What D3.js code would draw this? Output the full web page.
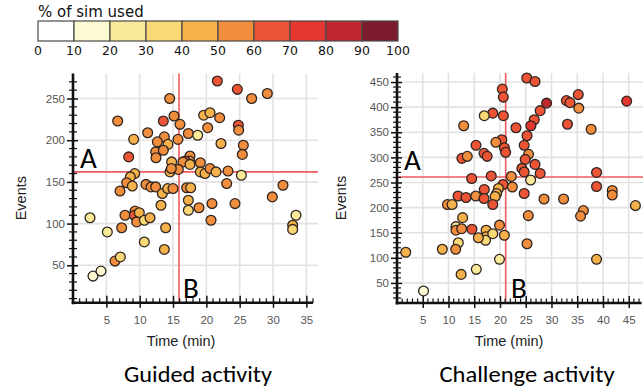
<!DOCTYPE html>
<html><head><meta charset="utf-8">
<script src="https://cdn.jsdelivr.net/npm/d3@7"></script>
<style>
html,body{margin:0;padding:0;background:#fff;}
svg{display:block;}
</style></head>
<body>
<svg id="chart" width="643" height="389"></svg>
<script>
// ---------- data ----------
const legendBreaks = [0,10,20,30,40,50,60,70,80,90,100];
const legendColors = ["#ffffff","#fdf9d3","#fbea9a","#f9d876","#f5b24b","#f08e3d","#ec5436","#e33631","#bf282e","#7c1b2b"];
const legendTitle = "% of sim used";

const guidedTime   = [21.65,24.65,26.8,29.15,14.5,6.7,13.55,15.15,16.05,19.6,20.55,22.0,24.8,24.85,20.2,17.3,18.7,11.2,13.7,12.65,14.25,15.75,9.1,22.2,25.55,25.4,8.35,12.4,13.55,12.45,17.55,17.5,16.85,16.5,17.55,14.8,19.1,14.55,15.8,14.75,19.1,19.8,20.55,21.45,23.25,25.25,9.25,8.6,8.05,8.9,7.05,10.95,11.7,12.4,13.4,14.2,15.0,17.05,17.65,23.05,29.9,31.5,13.2,17.3,17.3,18.9,20.85,24.3,20.7,2.55,7.8,9.3,9.2,9.95,9.55,10.7,11.55,7.3,13.9,5.15,10.7,13.7,6.3,7.1,3.0,4.2,33.45,32.95,32.95];
const guidedEvents = [271,261,250,256,250,223,223,229,219,230,233,227,218,212,215,208,206,209,204,198,195,201,201,196,194,183,180,186,188,179,181,175,175,174,171,174,173,162,165,166,162,160,166,162,163,158,160,156,149,145,139,147,144,144,136,142,142,143,143,148,132,146,122,128,116,119,124,124,104,107,110,115,110,113,102,104,107,95,95,90,78,69,55,60,37,43,110,98,93];
const guidedPct    = [65,65,55,55,55,55,65,55,55,45,45,55,65,55,55,55,25,55,55,55,45,55,45,45,55,55,65,55,55,55,55,55,65,55,45,45,55,45,55,55,45,45,55,45,55,25,45,45,55,45,55,55,55,55,45,45,55,55,45,55,55,55,45,45,35,55,55,55,55,25,55,55,65,45,55,35,45,55,45,25,35,45,55,35,15,15,25,45,35];

const challengeTime   = [25.2,26.8,20.45,20.65,35.2,44.6,32.9,33.6,29.05,35.3,27.8,18.6,16.95,20.65,26.65,26.0,33.1,12.95,37.7,23.1,25.25,20.35,19.2,15.35,24.7,20.85,21.1,16.9,17.5,25.55,12.6,13.65,24.9,26.8,38.75,24.25,24.7,27.8,18.3,14.5,22.2,25.95,20.6,22.4,16.95,19.7,19.35,19.05,24.7,11.85,13.4,15.3,16.9,18.6,9.8,10.7,28.55,32.35,38.75,41.8,41.8,46.3,36.2,35.65,25.5,12.75,11.45,11.45,12.55,14.55,17.3,17.3,17.2,15.8,18.6,19.9,20.85,11.9,11.4,8.8,1.7,19.9,25.25,38.75,15.4,12.45,5.15];
const challengeEvents = [458,451,436,420,425,412,413,409,408,398,393,388,383,383,375,363,366,363,356,359,343,335,330,324,324,319,310,308,302,306,298,302,296,286,270,278,271,268,263,258,262,255,246,241,236,238,228,222,228,223,220,223,218,206,206,206,217,217,242,234,225,204,194,183,184,180,162,155,158,157,155,142,135,140,148,165,145,130,117,117,111,97,128,97,77,67,34];
const challengePct    = [65,65,65,65,65,75,65,65,85,55,65,65,35,65,65,75,65,55,55,65,65,65,55,65,65,65,65,65,65,55,65,55,65,65,65,65,65,65,65,65,55,25,65,55,65,45,45,45,65,65,65,55,65,65,55,45,55,55,65,55,55,45,55,55,55,45,25,55,55,65,45,45,35,45,35,55,45,35,55,45,45,25,55,45,25,45,15];

const guidedXTicks = [5,10,15,20,25,30,35];
const guidedYTicks = [50,100,150,200,250];
const challengeXTicks = [5,10,15,20,25,30,35,40,45];
const challengeYTicks = [50,100,150,200,250,300,350,400,450];

const guidedThreshold = {time: 15.9, events: 162};
const challengeThreshold = {time: 21.1, events: 261};

// ---------- drawing ----------
const svg = d3.select("#chart");
const color = d3.scaleThreshold().domain(legendBreaks.slice(1,-1)).range(legendColors);

// Legend
const lx = d3.scaleLinear().domain([0,100]).range([38,398]);
svg.append("text").attr("x",38).attr("y",17)
  .attr("font-family","DejaVu Sans, Verdana, sans-serif").attr("font-size",15).attr("fill","#111")
  .text(legendTitle);
const lg = svg.append("g");
lg.selectAll("rect").data(legendColors).join("rect")
  .attr("x",(d,i)=>lx(legendBreaks[i])).attr("y",21)
  .attr("width",(d,i)=>lx(legendBreaks[i+1])-lx(legendBreaks[i])).attr("height",20)
  .attr("fill",d=>d).attr("stroke","#4a4a4a").attr("stroke-width",1.2);
lg.selectAll("text").data(legendBreaks).join("text")
  .attr("x",d=>lx(d)).attr("y",55).attr("text-anchor","middle")
  .attr("font-family","DejaVu Sans, Verdana, sans-serif").attr("font-size",12.5).attr("fill","#111")
  .text(d=>d);

function panel(opts){
  const {x, y, xTicks, yTicks, xMax, yMin, yMax, right, time, events, pct, thr, evX, timeX, title, titleX, titleW, aPos, bPos} = opts;
  const g = svg.append("g");
  const x0 = x.range()[0], yBot = y.range()[0], yTop = y.range()[1];
  // gridlines
  g.append("g").selectAll("line").data(xTicks).join("line")
    .attr("x1",d=>x(d)).attr("x2",d=>x(d)).attr("y1",yTop).attr("y2",yBot)
    .attr("stroke","#e2e2e2").attr("stroke-width",1.6);
  g.append("g").selectAll("line").data(yTicks).join("line")
    .attr("x1",x0).attr("x2",right).attr("y1",d=>y(d)).attr("y2",d=>y(d))
    .attr("stroke","#e2e2e2").attr("stroke-width",1.6);
  // threshold lines
  g.append("line").attr("x1",x(thr.time)).attr("x2",x(thr.time)).attr("y1",yTop).attr("y2",yBot)
    .attr("stroke","#ee5a5f").attr("stroke-width",1.6);
  g.append("line").attr("x1",x0).attr("x2",right).attr("y1",y(thr.events)).attr("y2",y(thr.events))
    .attr("stroke","#ee5a5f").attr("stroke-width",1.6);
  // points
  const idx = d3.range(time.length);
  g.append("g").selectAll("circle").data(idx).join("circle")
    .attr("cx",i=>x(time[i])).attr("cy",i=>y(events[i])).attr("r",4.9)
    .attr("fill",i=>color(pct[i])).attr("stroke","#2e2420").attr("stroke-width",1.3);
  // minor ticks x (above axis)
  const minorX = d3.range(1, Math.floor(xMax)+1).filter(v=>!xTicks.includes(v));
  g.append("g").selectAll("line").data(minorX).join("line")
    .attr("x1",d=>x(d)).attr("x2",d=>x(d)).attr("y1",yBot-4.5).attr("y2",yBot)
    .attr("stroke","#111").attr("stroke-width",1.2);
  // minor ticks y (crossing)
  const minorY = d3.range(Math.ceil(yMin/10)*10, yMax, 10).filter(v=>!yTicks.includes(v) && v>yMin);
  g.append("g").selectAll("line").data(minorY).join("line")
    .attr("x1",x0-4).attr("x2",x0+4).attr("y1",d=>y(d)).attr("y2",d=>y(d))
    .attr("stroke","#111").attr("stroke-width",1.2);
  // axes
  const xa = g.append("g").attr("transform",`translate(0,${yBot})`)
    .call(d3.axisBottom(x).tickValues(xTicks).tickSize(5).tickPadding(8).tickSizeOuter(0));
  xa.select(".domain").remove();
  xa.selectAll(".tick line").attr("y1",-7).attr("y2",5).attr("stroke","#111").attr("stroke-width",1.5);
  xa.selectAll("text").attr("font-family","Liberation Sans, Arial, sans-serif").attr("font-size",11.5).attr("fill","#555");
  const ya = g.append("g").attr("transform",`translate(${x0},0)`)
    .call(d3.axisLeft(y).tickValues(yTicks).tickSize(6).tickPadding(2).tickSizeOuter(0));
  ya.select(".domain").remove();
  ya.selectAll(".tick line").attr("x1",-6).attr("x2",5).attr("stroke","#111").attr("stroke-width",1.5);
  ya.selectAll("text").attr("font-family","Liberation Sans, Arial, sans-serif").attr("font-size",11.5).attr("fill","#555");
  // axis lines
  g.append("line").attr("x1",x0).attr("x2",x0).attr("y1",yTop).attr("y2",yBot+1.5)
    .attr("stroke","#111").attr("stroke-width",2.6);
  g.append("line").attr("x1",x0-1.3).attr("x2",x.range()[1]).attr("y1",yBot).attr("y2",yBot)
    .attr("stroke","#111").attr("stroke-width",2.6);
  // axis titles
  g.append("text").attr("transform",`translate(${evX},${(yTop+yBot)/2+10}) rotate(-90)`)
    .attr("text-anchor","middle").attr("font-family","Liberation Sans, Arial, sans-serif")
    .attr("font-size",14.5).attr("fill","#222").text("Events");
  g.append("text").attr("x",timeX).attr("y",346).attr("text-anchor","middle")
    .attr("font-family","Liberation Sans, Arial, sans-serif").attr("font-size",14.5).attr("fill","#222")
    .text("Time (min)");
  // A / B
  g.append("text").attr("x",aPos[0]).attr("y",aPos[1]).attr("font-family","Carlito, Lato, sans-serif")
    .attr("font-size",29).attr("fill","#000").text("A");
  g.append("text").attr("x",bPos[0]).attr("y",bPos[1]).attr("font-family","Carlito, Lato, sans-serif")
    .attr("font-size",29).attr("fill","#000").text("B");
  // title
  g.append("text").attr("x",titleX).attr("y",382).attr("text-anchor","middle")
    .attr("font-family","Carlito, Lato, sans-serif").attr("font-size",22).attr("fill","#000")
    .attr("textLength",titleW).attr("lengthAdjust","spacingAndGlyphs").text(title);
}

panel({
  x: d3.scaleLinear().domain([0,36]).range([73,313]),
  y: d3.scaleLinear().domain([5,280]).range([302.8,73.5]),
  xTicks: guidedXTicks, yTicks: guidedYTicks, xMax: 36, yMin: 5, yMax: 280, right: 318,
  time: guidedTime, events: guidedEvents, pct: guidedPct, thr: guidedThreshold,
  evX: 26, timeX: 181, title: "Guided activity", titleX: 198, titleW: 148,
  aPos: [80,168], bPos: [183,298]
});
panel({
  x: d3.scaleLinear().domain([0,47.5]).range([397,641.6]),
  y: d3.scaleLinear().domain([10,468]).range([303,73]),
  xTicks: challengeXTicks, yTicks: challengeYTicks, xMax: 47.5, yMin: 10, yMax: 468, right: 643,
  time: challengeTime, events: challengeEvents, pct: challengePct, thr: challengeThreshold,
  evX: 346, timeX: 509, title: "Challenge activity", titleX: 527, titleW: 175,
  aPos: [404,170], bPos: [511,298]
});
</script>
</body></html>
